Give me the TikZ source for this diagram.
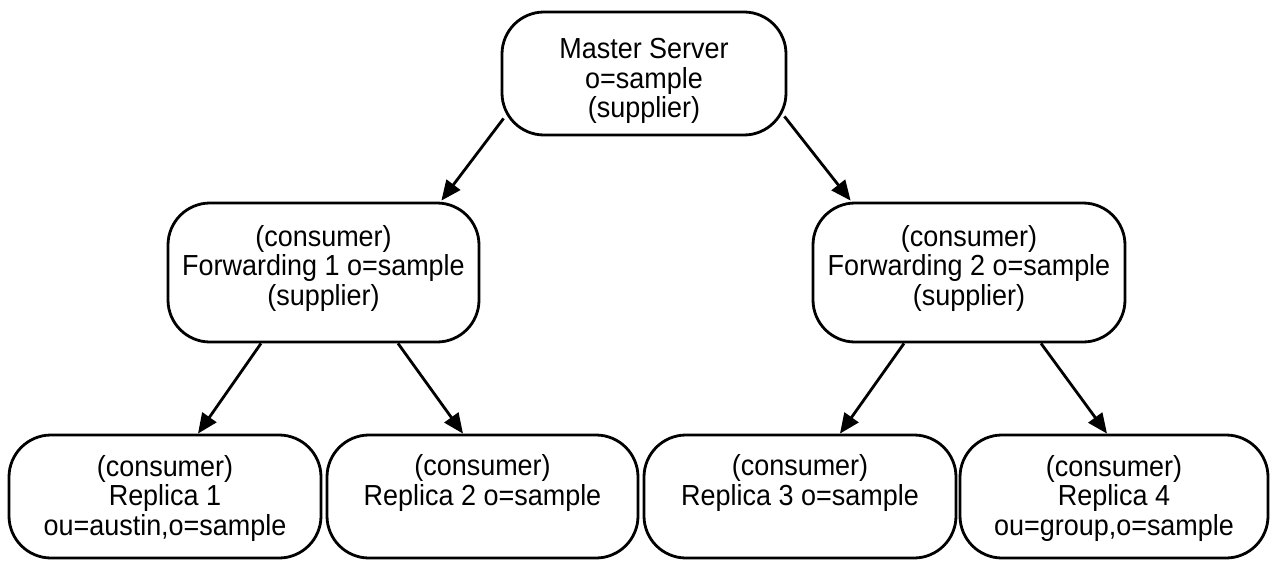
\documentclass[tikz,border=0pt]{standalone}
\usepackage{fontspec}
\setmainfont[FakeStretch=0.93]{Liberation Sans}
\usetikzlibrary{arrows.meta,calc}
\begin{document}
\begin{tikzpicture}[x=1pt,y=-1pt,
  box/.style={draw, line width=2.8pt, rounded corners=42pt, inner sep=0pt},
  lbl/.style={align=center, font=\fontsize{29}{29.5}\selectfont, inner sep=0pt},
  arr/.style={line width=2.8pt, -{Triangle[length=20pt,width=17pt]}}]
\useasboundingbox (0,0) rectangle (1274,562);
% boxes
\node[box, minimum width=284pt, minimum height=123pt] (m) at (644,73.5) {};
\node[box, minimum width=311pt, minimum height=139pt] (f1) at (323.5,272.5) {};
\node[box, minimum width=312pt, minimum height=139pt] (f2) at (969,272.5) {};
\node[box, minimum width=312pt, minimum height=123pt] (r1) at (165,496.5) {};
\node[box, minimum width=311pt, minimum height=123pt] (r2) at (482.5,496.5) {};
\node[box, minimum width=312pt, minimum height=123pt] (r3) at (800,496.5) {};
\node[box, minimum width=308pt, minimum height=123pt] (r4) at (1114,496.5) {};
% texts
\node[lbl] (mt) at (644,81) {Master Server\\o=sample\\(supplier)};
\node[lbl] (f1t) at (323.5,268) {(consumer)\\Forwarding 1 o=sample\\(supplier)};
\node[lbl] (f2t) at (969,268) {(consumer)\\Forwarding 2 o=sample\\(supplier)};
\node[lbl] (r1t) at (165,498) {(consumer)\\Replica 1\\ou=austin,o=sample};
\node[lbl] (r2t) at (482.5,483) {(consumer)\\Replica 2 o=sample};
\node[lbl] (r3t) at (800,483) {(consumer)\\Replica 3 o=sample};
\node[lbl] (r4t) at (1114,498) {(consumer)\\Replica 4\\ou=group,o=sample};
% arrows
\draw[arr] ($(m.south west)+(3,-18)$) -- ($(f1.north east)+(-39,-1)$);
\draw[arr] ($(m.south east)+(-3,-20)$) -- ($(f2.north west)+(39,-1)$);
\draw[arr] ($(f1.south)+(-62.5,0)$) -- ($(r1.north)+(33,0)$);
\draw[arr] ($(f1.south)+(74.5,0)$) -- ($(r2.north)+(-19.5,0)$);
\draw[arr] ($(f2.south)+(-65,0)$) -- ($(r3.north)+(40,0)$);
\draw[arr] ($(f2.south)+(72,0)$) -- ($(r4.north)+(-7,0)$);
\end{tikzpicture}
\end{document}
